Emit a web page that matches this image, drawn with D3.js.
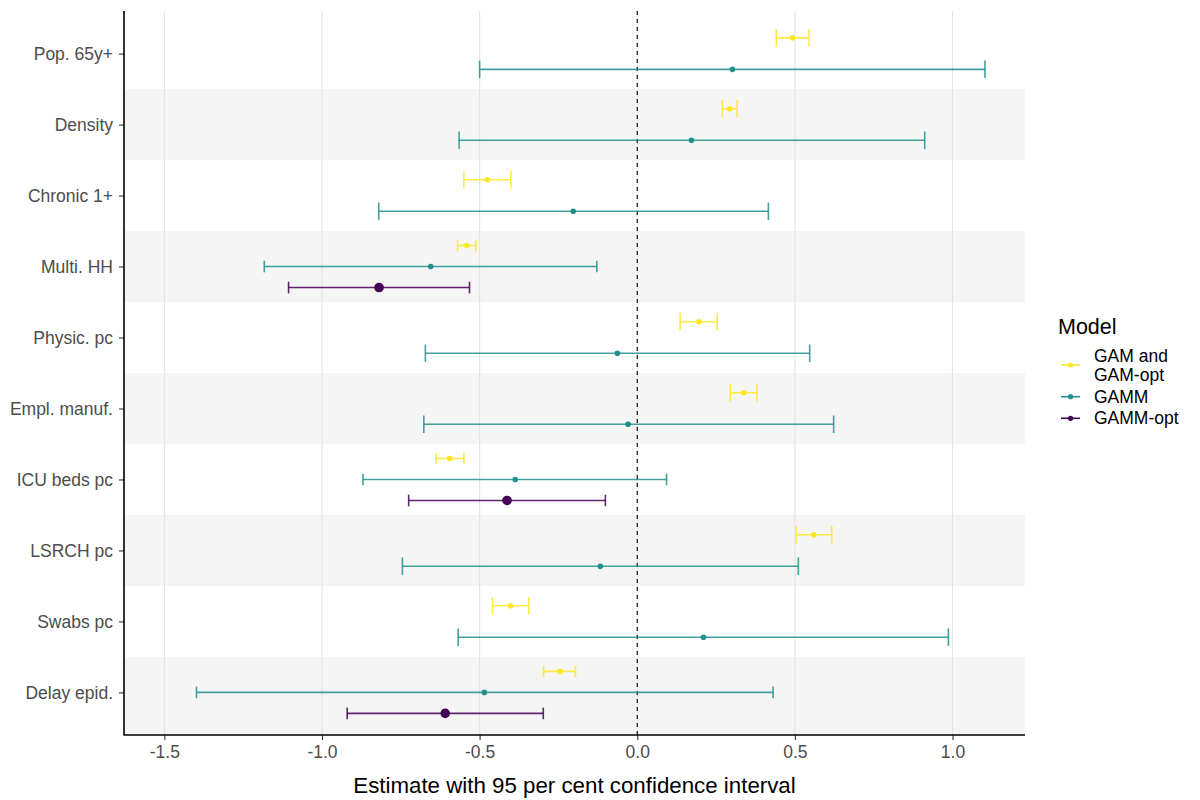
<!DOCTYPE html>
<html>
<head>
<meta charset="utf-8">
<script src="https://cdn.jsdelivr.net/npm/d3@7"></script>
<style>
  body { margin: 0; background: #fff; }
  text { font-family: "Liberation Sans", Arial, sans-serif; }
</style>
</head>
<body>
<div id="chart"></div>
<script>
// variables, top to bottom
const categories = ["Pop. 65y+", "Density", "Chronic 1+", "Multi. HH", "Physic. pc",
  "Empl. manuf.", "ICU beds pc", "LSRCH pc", "Swabs pc", "Delay epid."];

const models = ["GAM and GAM-opt", "GAMM", "GAMM-opt"];
const colors = ["#FDE725", "#21908C", "#440154"];

// GAM and GAM-opt
const gamEst = [0.493, 0.293, -0.476, -0.541, 0.196, 0.337, -0.595, 0.560, -0.402, -0.245];
const gamLo  = [0.441, 0.270, -0.550, -0.570, 0.136, 0.295, -0.638, 0.504, -0.459, -0.297];
const gamHi  = [0.545, 0.317, -0.401, -0.512, 0.254, 0.380, -0.550, 0.617, -0.344, -0.196];

// GAMM
const gammEst = [0.302, 0.172, -0.203, -0.655, -0.063, -0.029, -0.387, -0.117, 0.210, -0.485];
const gammLo  = [-0.500, -0.565, -0.820, -1.183, -0.672, -0.677, -0.870, -0.745, -0.568, -1.398];
const gammHi  = [1.103, 0.912, 0.416, -0.128, 0.547, 0.623, 0.093, 0.511, 0.987, 0.431];

// GAMM-opt (only some variables)
const optEst = [null, null, null, -0.819, null, null, -0.413, null, null, -0.609];
const optLo  = [null, null, null, -1.106, null, null, -0.725, null, null, -0.920];
const optHi  = [null, null, null, -0.532, null, null, -0.101, null, null, -0.298];

const xTicks = [-1.5, -1.0, -0.5, 0.0, 0.5, 1.0];

let width = 1200,
  height = 800,
  margin = ({ top: 11, right: 175, bottom: 65, left: 124 });

let rows = [];
categories.forEach((c, i) => {
  let grp = [];
  grp.push({ cat: c, m: 0, est: gamEst[i], lo: gamLo[i], hi: gamHi[i] });
  grp.push({ cat: c, m: 1, est: gammEst[i], lo: gammLo[i], hi: gammHi[i] });
  if (optEst[i] != null) grp.push({ cat: c, m: 2, est: optEst[i], lo: optLo[i], hi: optHi[i] });
  grp.forEach((d, j) => { d.j = j; d.n = grp.length; rows.push(d); });
});

let x = d3.scaleLinear()
  .domain([-1.628, 1.23])
  .range([margin.left, width - margin.right]);

let y = d3.scalePoint()
  .domain(categories)
  .range([margin.top, height - margin.bottom])
  .padding(0.6);

const step = y.step();
const dodge = 63;
const yPos = d => y(d.cat) + (d.j - (d.n - 1) / 2) * dodge / d.n;

const svg = d3.select("#chart")
  .append("svg")
  .attr("width", width)
  .attr("height", height);

const yTop = margin.top, yBottom = height - margin.bottom;
const lastCat = categories[categories.length - 1];

// alternating bands
svg.append("g")
  .selectAll("rect")
  .data(categories.filter((c, i) => i % 2 === 1))
  .join("rect")
  .attr("x", margin.left)
  .attr("width", width - margin.right - margin.left)
  .attr("y", d => y(d) - step / 2)
  .attr("height", d => (d === lastCat ? yBottom : y(d) + step / 2) - (y(d) - step / 2))
  .attr("fill", "#F5F5F5");

// vertical grid
svg.append("g")
  .selectAll("line")
  .data(xTicks)
  .join("line")
  .attr("x1", d => x(d)).attr("x2", d => x(d))
  .attr("y1", yTop).attr("y2", yBottom)
  .attr("stroke", "#E3E3E3")
  .attr("stroke-width", 1.1);

// zero line
svg.append("line")
  .attr("x1", x(0)).attr("x2", x(0))
  .attr("y1", yTop).attr("y2", yBottom)
  .attr("stroke", "#000")
  .attr("stroke-width", 1.1)
  .attr("stroke-dasharray", "4,4");

// error bars
const bars = svg.append("g")
  .selectAll("g")
  .data(rows)
  .join("g")
  .attr("stroke", d => colors[d.m])
  .attr("stroke-width", 1.6)
  .attr("stroke-opacity", 0.85);

bars.append("line")
  .attr("x1", d => x(d.lo)).attr("x2", d => x(d.hi))
  .attr("y1", yPos).attr("y2", yPos);

bars.append("line")
  .attr("x1", d => x(d.lo)).attr("x2", d => x(d.lo))
  .attr("y1", d => yPos(d) - 35 / d.n / 2)
  .attr("y2", d => yPos(d) + 35 / d.n / 2);

bars.append("line")
  .attr("x1", d => x(d.hi)).attr("x2", d => x(d.hi))
  .attr("y1", d => yPos(d) - 35 / d.n / 2)
  .attr("y2", d => yPos(d) + 35 / d.n / 2);

svg.append("g")
  .selectAll("circle")
  .data(rows)
  .join("circle")
  .attr("cx", d => x(d.est))
  .attr("cy", yPos)
  .attr("r", d => d.m === 2 ? 4.8 : 2.8)
  .attr("fill", d => colors[d.m]);

// axes
const xAxis = svg.append("g")
  .attr("transform", `translate(0,${yBottom})`)
  .call(d3.axisBottom(x).tickValues(xTicks).tickFormat(d => d.toFixed(1)).tickSize(5).tickPadding(6));
xAxis.select(".domain").remove();
xAxis.selectAll("line").attr("stroke", "#333").attr("stroke-width", 1.1);
xAxis.selectAll("text").attr("font-size", 17.5).attr("fill", "#4D4D4D")
  .style("font-family", "'Liberation Sans', Arial, sans-serif");

const yAxis = svg.append("g")
  .attr("transform", `translate(${margin.left},0)`)
  .call(d3.axisLeft(y).tickSize(5).tickPadding(6));
yAxis.select(".domain").remove();
yAxis.selectAll("line").attr("stroke", "#333").attr("stroke-width", 1.1);
yAxis.selectAll("text").attr("font-size", 17.5).attr("fill", "#4D4D4D")
  .style("font-family", "'Liberation Sans', Arial, sans-serif");

// axis lines
svg.append("path")
  .attr("d", `M${margin.left},${yTop}V${yBottom}H${width - margin.right}`)
  .attr("fill", "none")
  .attr("stroke", "#000")
  .attr("stroke-width", 1.6);

svg.append("text")
  .attr("x", (margin.left + width - margin.right) / 2)
  .attr("y", 793)
  .attr("text-anchor", "middle")
  .attr("font-size", 22.3)
  .attr("fill", "#000")
  .text("Estimate with 95 per cent confidence interval");

// legend
const legend = svg.append("g");
legend.append("text")
  .attr("x", 1058).attr("y", 334)
  .attr("font-size", 21.5)
  .text("Model");

const keyY = [365, 396.7, 418.3];
const labels = [["GAM and", "GAM-opt"], ["GAMM"], ["GAMM-opt"]];
models.forEach((m, i) => {
  legend.append("line")
    .attr("x1", 1061).attr("x2", 1080)
    .attr("y1", keyY[i]).attr("y2", keyY[i])
    .attr("stroke", colors[i]).attr("stroke-width", 1.6);
  legend.append("circle")
    .attr("cx", 1070.5).attr("cy", keyY[i]).attr("r", 2.6)
    .attr("fill", colors[i]);
  const t = legend.append("text")
    .attr("x", 1094)
    .attr("y", keyY[i] + 6 - (labels[i].length - 1) * 9)
    .attr("font-size", 17.5)
    .attr("fill", "#000");
  labels[i].forEach((l, k) => {
    t.append("tspan").attr("x", 1094).attr("dy", k === 0 ? 0 : 18.5).text(l);
  });
});
</script>
</body>
</html>
